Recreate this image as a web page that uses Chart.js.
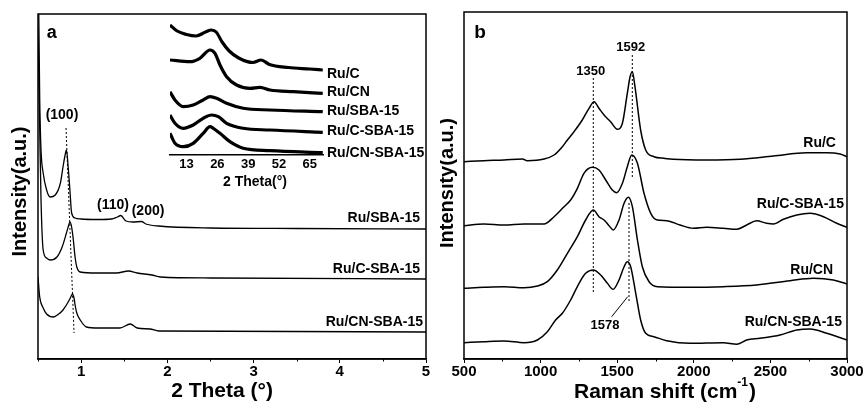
<!DOCTYPE html>
<html><head><meta charset="utf-8">
<script src="https://cdn.jsdelivr.net/npm/chart.js@4/dist/chart.umd.min.js"></script>
<style>
html,body{margin:0;padding:0;background:#fff;}
#wrap{position:relative;width:866px;height:410px;overflow:hidden;background:#fff;}
canvas{position:absolute;}
</style></head><body>
<div id="wrap">
<canvas id="ca" width="440" height="410" style="left:0px;top:0px"></canvas>
<canvas id="cb" width="426" height="410" style="left:440px;top:0px"></canvas>
<canvas id="ci" width="290" height="185" style="left:150px;top:10px"></canvas>
</div>
<script>
// ---------- Panel a: small-angle XRD ----------
const xrdTicks = [1, 2, 3, 4, 5];
const xrdMinor = [0.5, 1.5, 2.5, 3.5, 4.5];
const xrdNames = ['Ru/SBA-15', 'Ru/C-SBA-15', 'Ru/CN-SBA-15'];

const xrdTheta_RuSBA = [0.50, 0.52, 0.535, 0.56, 0.60, 0.64, 0.70, 0.76, 0.79, 0.81, 0.83, 0.85, 0.87, 0.89, 0.93, 1.00, 1.20, 1.35, 1.42, 1.46, 1.52, 1.60, 1.70, 1.75, 1.90, 2.50, 3.50, 5.00];
const xrdInt_RuSBA   = [420, 259, 209, 186, 169, 162, 164, 176, 192, 202, 209, 192, 169, 146, 141, 140, 139.5, 140, 142, 143.5, 138, 137, 137.5, 135, 133, 131, 130.5, 130];

const xrdTheta_RuCSBA = [0.50, 0.52, 0.535, 0.56, 0.60, 0.64, 0.72, 0.78, 0.83, 0.85, 0.87, 0.89, 0.91, 0.93, 0.95, 0.99, 1.18, 1.41, 1.55, 1.65, 1.82, 1.92, 2.50, 5.00];
const xrdInt_RuCSBA   = [330, 230, 159, 109, 101, 99, 102, 112, 126, 132, 137, 132, 119, 102, 92, 87, 86, 86, 88, 86, 84, 82, 81, 80];

const xrdTheta_RuCNSBA = [0.50, 0.52, 0.56, 0.60, 0.68, 0.74, 0.79, 0.85, 0.88, 0.90, 0.92, 0.93, 0.95, 0.99, 1.06, 1.20, 1.45, 1.57, 1.65, 1.80, 1.90, 5.00];
const xrdInt_RuCNSBA   = [82, 62, 51, 45, 42, 45, 49, 57, 62, 65, 60, 54, 46, 39, 32, 31, 31, 35, 31, 30, 28, 27];

const xrdGuideTheta = [0.825, 0.918];
const xrdGuideInt   = [231, 26];

// ---------- Inset: wide-angle XRD ----------
const insetTicks = [13, 26, 39, 52, 65];
const insetNames = ['Ru/C', 'Ru/CN', 'Ru/SBA-15', 'Ru/C-SBA-15', 'Ru/CN-SBA-15'];
const insetTheta_RuC = [6, 9, 13, 17, 21, 23.5, 25.5, 28, 31, 35, 41, 44.5, 48, 56, 65, 70.5];
const insetInt_RuC   = [130, 124, 120.5, 119, 123, 125, 123, 113, 104, 97, 92.5, 95, 90.5, 87.5, 86, 85];
const insetTheta_RuCN = [6, 14.4, 18.6, 22.9, 25, 27.1, 29.9, 34.1, 39.8, 44, 48.2, 58.1, 70.5];
const insetInt_RuCN   = [95, 93.3, 96.7, 105, 101.7, 90, 78.3, 70, 66.7, 67.7, 65, 63.3, 61.7];
const insetTheta_RuSBA = [6, 8.1, 11.6, 15.8, 20, 22.9, 25.7, 29.9, 36.9, 48.2, 70.5];
const insetInt_RuSBA   = [63.3, 55, 48.3, 50, 55, 58.3, 56.7, 51.7, 46.7, 45, 43.3];
const insetTheta_RuCSBA = [6, 8.1, 11.6, 15.8, 20, 23.6, 26.4, 29.9, 36.9, 48.2, 70.5];
const insetInt_RuCSBA   = [40, 31.7, 26.7, 30, 36.7, 40, 38.3, 31.7, 26.7, 25, 22.7];
const insetTheta_RuCNSBA = [6, 8.1, 11.6, 15.8, 20, 22.9, 24.3, 27.1, 31.3, 36.9, 48.2, 70.5];
const insetInt_RuCNSBA   = [21.7, 11.7, 8.3, 11.7, 21.7, 28.3, 26.7, 21.7, 13.3, 6.7, 4.3, 2.3];

// ---------- Panel b: Raman ----------
const ramanTicks = [500, 1000, 1500, 2000, 2500, 3000];
const ramanMinor = [750, 1250, 1750, 2250, 2750];
const ramanNames = ['Ru/C', 'Ru/C-SBA-15', 'Ru/CN', 'Ru/CN-SBA-15'];

const ramanShift_RuC = [500, 630, 761, 881, 913, 1022, 1088, 1142, 1175, 1218, 1272, 1316, 1349, 1381, 1414, 1457, 1501, 1534, 1566, 1584, 1599, 1616, 1653, 1686, 1740, 1806, 1867, 2084, 2302, 2519, 2737, 2868, 2955, 3000];
const ramanInt_RuC   = [197.3, 198.3, 199, 200, 198.3, 200, 204, 212.3, 219, 227.3, 239, 250.7, 257.3, 250.7, 244, 237.3, 229.7, 235.7, 265.7, 282.3, 287.3, 272.3, 229, 209, 202.3, 200.7, 199.7, 199, 199.7, 203, 206.3, 206.3, 205, 202.3];

const ramanShift_RuCSBA = [500, 630, 761, 892, 1022, 1088, 1153, 1196, 1240, 1283, 1338, 1381, 1425, 1468, 1497, 1534, 1566, 1595, 1632, 1675, 1719, 1762, 1823, 1910, 1997, 2084, 2193, 2280, 2345, 2410, 2476, 2519, 2585, 2672, 2759, 2846, 2933, 3000];
const ramanInt_RuCSBA   = [133.3, 135, 134, 135, 135, 142.3, 152.3, 159, 170.7, 185.7, 191.7, 189, 179, 169, 166.3, 175.7, 192.3, 204, 195.7, 165.7, 145.7, 139, 138.3, 134, 130.7, 131.7, 130.7, 129.7, 134, 138.3, 135.7, 135, 139.7, 144, 145.7, 142.3, 135.7, 131.7];

const ramanShift_RuCN = [500, 630, 761, 892, 979, 1044, 1109, 1175, 1240, 1294, 1344, 1381, 1414, 1447, 1475, 1512, 1545, 1573, 1599, 1632, 1664, 1708, 1762, 1975, 2193, 2410, 2628, 2780, 2911, 3000];
const ramanInt_RuCN   = [70.7, 71.7, 72.3, 71.3, 73, 77.3, 89, 105.7, 122.3, 139, 149, 142.3, 139, 133.3, 129, 139, 155.7, 161.7, 152.3, 119, 92.3, 77.3, 72.3, 71.7, 72.3, 74, 78.3, 80.7, 79, 75];

const ramanShift_RuCNSBA = [500, 630, 761, 892, 979, 1044, 1098, 1142, 1196, 1251, 1294, 1344, 1392, 1436, 1473, 1512, 1545, 1566, 1588, 1621, 1653, 1686, 1740, 1823, 1975, 2193, 2280, 2345, 2432, 2563, 2672, 2759, 2868, 3000];
const ramanInt_RuCNSBA   = [16.3, 17.3, 18, 16.3, 19, 27.3, 39, 45.7, 59, 75.7, 85.7, 89, 84, 75.7, 69.7, 79, 92.3, 97.3, 92.3, 65.7, 39, 25.7, 22.3, 18.3, 15.7, 16.3, 14.7, 19, 20.7, 24, 29, 30, 25.7, 19];

const ramanGuide1350_x = [1344, 1344];   const ramanGuide1350_y = [281, 66];
const ramanGuide1592_x = [1598.6, 1598.6]; const ramanGuide1592_y = [304, 182];
const ramanGuide1578_x = [1577, 1577];   const ramanGuide1578_y = [156, 56];
const ramanLeader_x = [1568.5, 1464];    const ramanLeader_y = [62.3, 42.3];

// ---------- helpers ----------
const FONT = '"Liberation Sans", Arial, Helvetica, sans-serif';
const zip = (xs, ys) => xs.map((x, i) => ({x: x, y: ys[i]}));
function curve(xs, ys, w) {
  return {data: zip(xs, ys), borderColor: '#000', borderWidth: w, pointRadius: 0, fill: false,
          tension: 0.4, cubicInterpolationMode: 'monotone'};
}
function guide(xs, ys, dash) {
  return {data: zip(xs, ys), borderColor: '#000', borderWidth: 1, pointRadius: 0, fill: false,
          tension: 0, borderDash: dash};
}
function txt(ctx, s, x, y, size, align) {
  ctx.font = 'bold ' + size + 'px ' + FONT;
  ctx.textAlign = align || 'center';
  ctx.textBaseline = 'middle';
  ctx.fillStyle = '#000';
  ctx.fillText(s, x, y);
}
function frame(chart, minor) {
  const ctx = chart.ctx, a = chart.chartArea, xs = chart.scales.x;
  ctx.save();
  ctx.strokeStyle = '#000'; ctx.lineWidth = 1.5;
  ctx.strokeRect(a.left, a.top, a.right - a.left, a.bottom - a.top);
  ctx.lineWidth = 1;
  minor.forEach(v => {
    const p = Math.round(xs.getPixelForValue(v)) + 0.5;
    ctx.beginPath(); ctx.moveTo(p, a.bottom); ctx.lineTo(p, a.bottom + 2.5); ctx.stroke();
  });
  ctx.restore();
}
function xAxis(min, max, ticks, h, size, pad, tickLen) {
  return {
    type: 'linear', min: min, max: max,
    afterBuildTicks: s => { s.ticks = ticks.map(v => ({value: v})); },
    afterFit: s => { s.height = h; },
    grid: {display: true, drawOnChartArea: false, drawTicks: tickLen > 0, tickLength: tickLen, tickColor: '#000', tickWidth: 1},
    border: {display: true, color: '#000', width: 1.5},
    ticks: {color: '#000', font: {family: FONT, size: size, weight: 'bold'}, padding: pad, maxRotation: 0, autoSkip: false,
            callback: v => String(v)}
  };
}
const base = {responsive: false, animation: false, devicePixelRatio: 1,
  plugins: {legend: {display: false}, tooltip: {enabled: false}}, events: []};

// ---------- Chart a ----------
new Chart(document.getElementById('ca'), {
  type: 'line',
  data: {datasets: [
    curve(xrdTheta_RuSBA, xrdInt_RuSBA, 1.3),
    curve(xrdTheta_RuCSBA, xrdInt_RuCSBA, 1.3),
    curve(xrdTheta_RuCNSBA, xrdInt_RuCNSBA, 1.3),
    guide(xrdGuideTheta, xrdGuideInt, [2, 2])
  ]},
  options: Object.assign({}, base, {
    layout: {padding: {left: 38, right: 14, top: 14, bottom: 0}},
    scales: {x: xAxis(0.5, 5, xrdTicks, 51, 15, 0, 4), y: {display: false, min: 0, max: 345}}
  }),
  plugins: [{id: 'decoA', afterDraw(chart) {
    const ctx = chart.ctx, xs = chart.scales.x, ys = chart.scales.y;
    frame(chart, xrdMinor);
    ctx.save();
    txt(ctx, 'a', 51.7, 33, 18);
    ctx.save(); ctx.translate(20.5, 191.5); ctx.rotate(-Math.PI / 2);
    txt(ctx, 'Intensity(a.u.)', 0, 0, 20); ctx.restore();
    txt(ctx, '2 Theta (\u00B0)', 222, 391, 21);
    txt(ctx, '(100)', xs.getPixelForValue(0.778), ys.getPixelForValue(244), 14);
    txt(ctx, '(110)', xs.getPixelForValue(1.37), ys.getPixelForValue(154), 14);
    txt(ctx, '(200)', xs.getPixelForValue(1.776), ys.getPixelForValue(148), 14);
    const lx = [4.93, 4.93, 4.965], ly = [141, 90, 37.3];
    xrdNames.forEach((n, i) => txt(ctx, n, xs.getPixelForValue(lx[i]), ys.getPixelForValue(ly[i]), 14, 'right'));
    ctx.restore();
  }}]
});

// ---------- Inset ----------
new Chart(document.getElementById('ci'), {
  type: 'line',
  data: {datasets: [
    curve(insetTheta_RuC, insetInt_RuC, 3.2),
    curve(insetTheta_RuCN, insetInt_RuCN, 3.2),
    curve(insetTheta_RuSBA, insetInt_RuSBA, 3.2),
    curve(insetTheta_RuCSBA, insetInt_RuCSBA, 3.2),
    curve(insetTheta_RuCNSBA, insetInt_RuCNSBA, 3.2)
  ]},
  options: Object.assign({}, base, {
    layout: {padding: {left: 20, right: 117, top: 10, bottom: 0}},
    scales: {x: xAxis(6, 70.6, insetTicks, 40, 13, 2, 0), y: {display: false, min: 0, max: 135}}
  }),
  plugins: [{id: 'decoI', afterDraw(chart) {
    const ctx = chart.ctx, a = chart.chartArea, ys = chart.scales.y;
    ctx.save();
    txt(ctx, '2 Theta(\u00B0)', 105, 172, 14);
    const ly = [81, 62.7, 44, 24, 2.3];
    insetNames.forEach((n, i) => txt(ctx, n, a.right + 4, ys.getPixelForValue(ly[i]), 14, 'left'));
    ctx.restore();
  }}]
});

// ---------- Chart b ----------
new Chart(document.getElementById('cb'), {
  type: 'line',
  data: {datasets: [
    curve(ramanShift_RuC, ramanInt_RuC, 1.5),
    curve(ramanShift_RuCSBA, ramanInt_RuCSBA, 1.5),
    curve(ramanShift_RuCN, ramanInt_RuCN, 1.5),
    curve(ramanShift_RuCNSBA, ramanInt_RuCNSBA, 1.5),
    guide(ramanGuide1350_x, ramanGuide1350_y, [2, 2]),
    guide(ramanGuide1592_x, ramanGuide1592_y, [2, 2]),
    guide(ramanGuide1578_x, ramanGuide1578_y, [2, 2]),
    guide(ramanLeader_x, ramanLeader_y, [])
  ]},
  options: Object.assign({}, base, {
    layout: {padding: {left: 24, right: 19, top: 12, bottom: 0}},
    scales: {x: xAxis(500, 3000, ramanTicks, 51, 15, 0, 4), y: {display: false, min: 0, max: 347}}
  }),
  plugins: [{id: 'decoB', afterDraw(chart) {
    const ctx = chart.ctx, xs = chart.scales.x, ys = chart.scales.y;
    frame(chart, ramanMinor);
    ctx.save();
    txt(ctx, 'b', 40, 32.5, 19);
    ctx.save(); ctx.translate(7, 183); ctx.rotate(-Math.PI / 2);
    txt(ctx, 'Intensity(a.u.)', 0, 0, 20); ctx.restore();
    // x title with superscript
    const big = 'bold 21px ' + FONT, small = 'bold 12px ' + FONT;
    const p1 = 'Raman shift (cm', p2 = '-1', p3 = ')';
    ctx.font = big; const w1 = ctx.measureText(p1).width, w3 = ctx.measureText(p3).width;
    ctx.font = small; const w2 = ctx.measureText(p2).width;
    let x0 = 225 - (w1 + w2 + w3 + 1) / 2;
    txt(ctx, p1, x0, 392, 21, 'left');
    txt(ctx, p2, x0 + w1, 383, 12, 'left');
    txt(ctx, p3, x0 + w1 + w2 + 1, 392, 21, 'left');
    txt(ctx, '1350', xs.getPixelForValue(1327), ys.getPixelForValue(287.3), 13);
    txt(ctx, '1592', xs.getPixelForValue(1588), ys.getPixelForValue(311.3), 13);
    txt(ctx, '1578', xs.getPixelForValue(1420), ys.getPixelForValue(34), 13);
    const lx = [2928, 2980, 2909, 2967], ly = [216, 155, 89, 37];
    ramanNames.forEach((n, i) => txt(ctx, n, xs.getPixelForValue(lx[i]), ys.getPixelForValue(ly[i]), 14, 'right'));
    ctx.restore();
  }}]
});
</script>
</body></html>
